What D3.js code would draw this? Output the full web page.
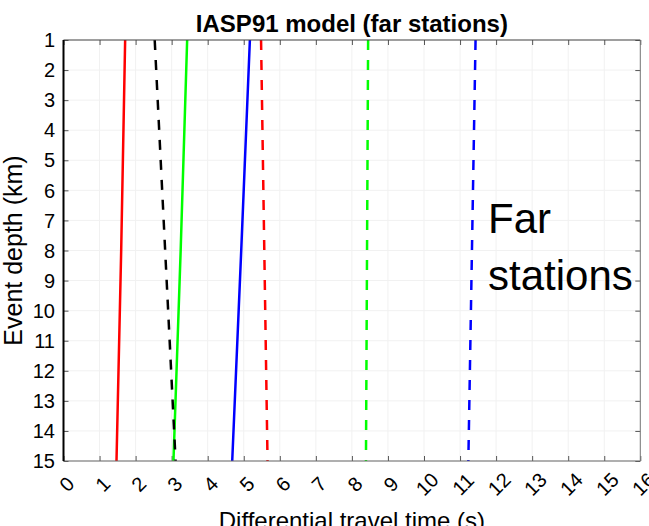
<!DOCTYPE html>
<html><head><meta charset="utf-8">
<script src="https://cdnjs.cloudflare.com/ajax/libs/d3/7.8.5/d3.min.js"></script>
<style>
html,body{margin:0;padding:0;background:#fff;}
svg{display:block;}
text{font-family:"Liberation Sans",Arial,Helvetica,sans-serif;fill:#000;}
</style></head>
<body>
<svg id="chart" width="649" height="526"></svg>
<script>
// ---- data ----
const title = "IASP91 model (far stations)";
const xLabel = "Differential travel time (s)";
const yLabel = "Event depth (km)";
const annotation = ["Far", "stations"];
const xTicks = d3.range(0, 17);           // 0..16
const yTicks = d3.range(1, 16);           // 1..15
const depths = [1, 8, 15];
const redSolid    = [1.71, 1.60, 1.47];
const greenSolid  = [3.43, 3.25, 3.05];
const blueSolid   = [5.17, 4.93, 4.68];
const blackDashed = [2.53, 2.82, 3.11];
const redDashed   = [5.48, 5.57, 5.66];
const greenDashed = [8.45, 8.42, 8.39];
const blueDashed  = [11.43, 11.33, 11.23];
const series = [
  {name: "red", values: redSolid, color: "#ff0000", dashed: false},
  {name: "green", values: greenSolid, color: "#00ff00", dashed: false},
  {name: "blue", values: blueSolid, color: "#0000ff", dashed: false},
  {name: "black dashed", values: blackDashed, color: "#000000", dashed: true},
  {name: "red dashed", values: redDashed, color: "#ff0000", dashed: true},
  {name: "green dashed", values: greenDashed, color: "#00ff00", dashed: true},
  {name: "blue dashed", values: blueDashed, color: "#0000ff", dashed: true}
];

// ---- layout ----
const L = 63.5, R = 640.3, T = 40, B = 461;
const svg = d3.select("#chart");
const x = d3.scaleLinear().domain([0, 16]).range([L, R]);
const y = d3.scaleLinear().domain([1, 15]).range([T, B]);

// grid
const g = svg.append("g");
g.selectAll("line.vg").data(xTicks).join("line")
  .attr("x1", d => x(d)).attr("x2", d => x(d)).attr("y1", T).attr("y2", B)
  .attr("stroke", "#f1f1f1").attr("stroke-width", 1);
g.selectAll("line.hg").data(yTicks).join("line")
  .attr("y1", d => y(d)).attr("y2", d => y(d)).attr("x1", L).attr("x2", R)
  .attr("stroke", "#f1f1f1").attr("stroke-width", 1);

// axes (inward ticks)
const tickLen = 5;
const xb = svg.append("g").attr("transform", `translate(0,${B})`)
  .call(d3.axisBottom(x).tickValues(xTicks).tickSize(-tickLen).tickFormat(""));
const xt = svg.append("g").attr("transform", `translate(0,${T})`)
  .call(d3.axisTop(x).tickValues(xTicks).tickSize(-tickLen).tickFormat(""));
const yl = svg.append("g").attr("transform", `translate(${L},0)`)
  .call(d3.axisLeft(y).tickValues(yTicks).tickSize(-tickLen).tickFormat(""));
const yr = svg.append("g").attr("transform", `translate(${R},0)`)
  .call(d3.axisRight(y).tickValues(yTicks).tickSize(-tickLen).tickFormat(""));
[xb, xt, yl, yr].forEach(a => {
  a.select(".domain").remove();
  a.selectAll(".tick line").attr("stroke", "#555").attr("stroke-width", 1);
});

// series lines
const line = d3.line().x(d => x(d.v)).y(d => y(d.d));
const drawOrder = series.filter(s => !s.dashed).concat(series.filter(s => s.dashed));
svg.append("g").selectAll("path").data(drawOrder).join("path")
  .attr("d", s => line(s.values.map((v, i) => ({v, d: depths[i]}))))
  .attr("fill", "none")
  .attr("stroke", s => s.color)
  .attr("stroke-width", 2.5)
  .attr("stroke-dasharray", s => s.dashed ? "10,10" : null);

// box
svg.append("line").attr("x1", L).attr("x2", R).attr("y1", T).attr("y2", T).attr("stroke", "#444").attr("stroke-width", 1);
svg.append("line").attr("x1", L).attr("x2", R).attr("y1", B).attr("y2", B).attr("stroke", "#666").attr("stroke-width", 1);
svg.append("line").attr("x1", R).attr("x2", R).attr("y1", T).attr("y2", B).attr("stroke", "#777").attr("stroke-width", 1);
svg.append("line").attr("x1", L).attr("x2", L).attr("y1", T).attr("y2", B).attr("stroke", "#000").attr("stroke-width", 2);

// tick labels
svg.append("g").selectAll("text").data(yTicks).join("text")
  .attr("x", 55).attr("y", d => y(d)).attr("dy", "0.36em")
  .attr("text-anchor", "end").attr("font-size", 20).text(d => d);
svg.append("g").selectAll("text").data(xTicks).join("text")
  .attr("transform", d => `translate(${x(d) + 3},${484}) rotate(-45)`)
  .attr("text-anchor", "middle").attr("dy", "0.36em")
  .attr("font-size", 20).text(d => d);

// titles
svg.append("text").attr("x", (L + R) / 2).attr("y", 31.5)
  .attr("text-anchor", "middle").attr("font-size", 24).attr("font-weight", "bold").text(title);
svg.append("text").attr("x", (L + R) / 2).attr("y", 529)
  .attr("text-anchor", "middle").attr("font-size", 24).text(xLabel);
svg.append("text").attr("transform", `translate(22,${(T + B) / 2}) rotate(-90)`)
  .attr("text-anchor", "middle").attr("font-size", 25).text(yLabel);

// annotation
svg.append("g").selectAll("text").data(annotation).join("text")
  .attr("x", 488).attr("y", (d, i) => 233 + i * 57)
  .attr("font-family", "Lato, 'Open Sans', sans-serif")
  .attr("font-size", 42).text(d => d);
</script>
</body></html>
